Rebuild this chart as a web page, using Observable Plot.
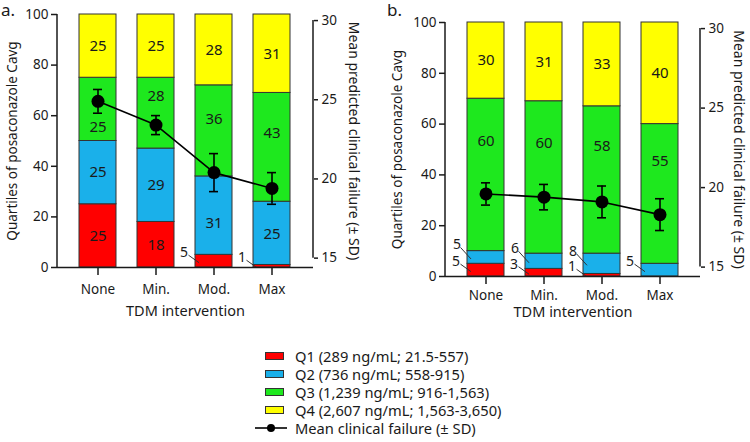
<!DOCTYPE html>
<html>
<head>
<meta charset="utf-8">
<script src="https://cdn.jsdelivr.net/npm/d3@7"></script>
<script src="https://cdn.jsdelivr.net/npm/@observablehq/plot@0.6"></script>
<style>
  body { margin: 0; background: #fff; }
  #wrap { position: relative; width: 750px; height: 442px; font-family: "Noto Sans", sans-serif; color: #1a1a1a; overflow: hidden; }
  .panel { position: absolute; top: 0; }
  .letter { position: absolute; font-size: 17px; line-height: 17px; }
  #legend { position: absolute; left: 255px; top: 347px; font-size: 14.7px; }
  .row { height: 18px; display: flex; align-items: center; }
  .sw { width: 17px; height: 6px; border: 1px solid #333; margin-left: 10px; margin-right: 11px; }
</style>
</head>
<body>
<div id="wrap">
  <div id="pa" class="panel" style="left:0px;"></div>
  <div id="pb" class="panel" style="left:375px;"></div>
  <div class="letter" style="left:1px;top:1px;">a.</div>
  <div class="letter" style="left:387px;top:1px;">b.</div>
  <div id="legend"></div>
</div>
<script>
// ---- data ----
const tdm = ["None", "Min.", "Mod.", "Max"];
const quartiles = ["Q1", "Q2", "Q3", "Q4"];
const quartileLabels = [
  "Q1 (289 ng/mL; 21.5-557)",
  "Q2 (736 ng/mL; 558-915)",
  "Q3 (1,239 ng/mL; 916-1,563)",
  "Q4 (2,607 ng/mL; 1,563-3,650)"
];
const lineLabel = "Mean clinical failure (\u00b1 SD)";
const colors = ["#ff0000", "#1ab0ea", "#1ee81e", "#ffff00"];

const aQ1 = [25, 18, 5, 1];
const aQ2 = [25, 29, 31, 25];
const aQ3 = [25, 28, 36, 43];
const aQ4 = [25, 25, 28, 31];
const aMean = [24.9, 23.4, 20.4, 19.4];
const aSD = [0.75, 0.6, 1.2, 1.0];

const bQ1 = [5, 3, 1, 0];
const bQ2 = [5, 6, 8, 5];
const bQ3 = [60, 60, 58, 55];
const bQ4 = [30, 31, 33, 40];
const bMean = [19.6, 19.4, 19.1, 18.3];
const bSD = [0.7, 0.8, 1.0, 1.0];

const leftTicks = [0, 20, 40, 60, 80, 100];
const rightTicks = [15, 20, 25, 30];
const xTitle = "TDM intervention";
const leftTitle = "Quartiles of posaconazole Cavg";
const rightTitle = "Mean predicted clinical failure (\u00b1 SD)";

// secondary axis: failure [15,30] drawn onto the left (percent) scale
const toLeft = d3.scaleLinear().domain([15, 30]).range([3.7, 97.6]);
const SMALL = 10;           // segments below this get an outside label with a leader line
const DY_LOW = -8.5, DY_LIFT = -12.5;

function buildStack(qs, fail) {
  const rows = [];
  tdm.forEach((t, i) => {
    let cum = 0, prevSmall = false;
    const eLo = toLeft(fail[i].mean - fail[i].sd), eHi = toLeft(fail[i].mean + fail[i].sd);
    qs.forEach((arr, k) => {
      const v = arr[i], lo = cum, hi = cum + v;
      let ly = (lo + hi) / 2;
      if (eHi > lo && eLo < hi) {            // keep the label clear of the error bar
        const below = Math.max(lo, eLo) - lo, above = hi - Math.min(hi, eHi);
        ly = below >= above ? lo + below / 2 : hi - above / 2;
      }
      const small = v > 0 && v < SMALL;
      rows.push({tdm: t, q: quartiles[k], value: v, lo, hi, mid: (lo + hi) / 2, ly, small, lift: small && prevSmall});
      prevSmall = small;
      cum = hi;
    });
  });
  return rows;
}

function panel(qs, means, sds, o) {
  const fail = tdm.map((t, i) => ({tdm: t, mean: means[i], sd: sds[i]}));
  const rows = buildStack(qs, fail);
  const big = rows.filter(d => d.value >= SMALL);
  const smallLow = rows.filter(d => d.small && !d.lift);
  const smallLift = rows.filter(d => d.small && d.lift);

  const spines = (index, scales, values, dims) => {
    const g = d3.create("svg:g").attr("stroke", "#1a1a1a").attr("stroke-width", 1.5);
    const xl = dims.marginLeft, xr = dims.width - dims.marginRight;
    g.append("line").attr("x1", xl).attr("x2", xl).attr("y1", scales.y(0)).attr("y2", scales.y(100));
    g.append("line").attr("x1", xr).attr("x2", xr).attr("y1", scales.y(toLeft(15))).attr("y2", scales.y(toLeft(30)));
    return g.node();
  };
  const leaders = (index, scales) => {
    const g = d3.create("svg:g").attr("stroke", "#333").attr("stroke-width", 1);
    rows.filter(d => d.small).forEach(d => {
      const x = scales.x(d.tdm), ym = scales.y(d.mid), yl = ym + (d.lift ? DY_LIFT : DY_LOW);
      g.append("line").attr("x1", x - 6.5).attr("y1", yl + 3).attr("x2", x + 4).attr("y2", ym + 2);
    });
    return g.node();
  };

  return Plot.plot({
    width: 375,
    height: 330,
    marginLeft: o.ml, marginRight: o.mr, marginTop: o.mt, marginBottom: o.mb,
    style: {fontFamily: "'Noto Sans', sans-serif", fontSize: "13.5px", color: "#1a1a1a", background: "transparent", overflow: "visible"},
    x: {domain: tdm, padding: 0.36},
    y: {domain: [0, 100]},
    color: {domain: quartiles, range: colors},
    marks: [
      Plot.barY(rows, {x: "tdm", y1: "lo", y2: "hi", fill: "q", stroke: "#333", strokeWidth: 1}),
      Plot.text(big, {x: "tdm", y: "ly", text: d => String(d.value), fontSize: 15, fill: "#1a1a1a"}),
      Plot.text(smallLow, {x: "tdm", y: "mid", text: d => String(d.value), fontSize: 14, fill: "#1a1a1a", dx: -30, dy: DY_LOW}),
      Plot.text(smallLift, {x: "tdm", y: "mid", text: d => String(d.value), fontSize: 14, fill: "#1a1a1a", dx: -29, dy: DY_LIFT}),
      leaders,
      Plot.ruleY([0], {stroke: "#1a1a1a", strokeWidth: 1.5}),
      spines,
      Plot.axisY({anchor: "left", ticks: leftTicks, tickSize: 6, tickPadding: 3, label: null, strokeWidth: 1.5}),
      Plot.axisY({anchor: "right", ticks: rightTicks.map(toLeft), tickFormat: d => String(Math.round(toLeft.invert(d))), tickSize: 4, tickPadding: 4, label: null, strokeWidth: 1.5}),
      Plot.axisX({tickSize: 8, tickPadding: o.tp, label: null, strokeWidth: 1.5}),
      Plot.line(fail, {x: "tdm", y: d => toLeft(d.mean), stroke: "black", strokeWidth: 1.6}),
      Plot.ruleX(fail, {x: "tdm", y1: d => toLeft(d.mean - d.sd), y2: d => toLeft(d.mean + d.sd), stroke: "black", strokeWidth: 1.6}),
      Plot.tickY(fail, {x: "tdm", y: d => toLeft(d.mean - d.sd), stroke: "black", strokeWidth: 1.6, inset: 14}),
      Plot.tickY(fail, {x: "tdm", y: d => toLeft(d.mean + d.sd), stroke: "black", strokeWidth: 1.6, inset: 14}),
      Plot.dot(fail, {x: "tdm", y: d => toLeft(d.mean), r: 6.5, fill: "black"}),
      Plot.text([xTitle], {frameAnchor: "bottom", text: d => d, dy: o.xt, fontSize: 14.5, textAnchor: "middle"}),
      Plot.text([leftTitle], {frameAnchor: "left", text: d => d, dx: o.lt, rotate: -90, fontSize: 13.5, textAnchor: "middle"}),
      Plot.text([rightTitle], {frameAnchor: "right", text: d => d, dx: o.rt, rotate: 90, fontSize: 14, textAnchor: "middle"})
    ]
  });
}

document.getElementById("pa").append(panel([aQ1, aQ2, aQ3, aQ4], aMean, aSD, {ml: 57, mr: 62, mt: 14, mb: 63, xt: 48, lt: -45, rt: 40, tp: 9}));
document.getElementById("pb").append(panel([bQ1, bQ2, bQ3, bQ4], bMean, bSD, {ml: 70, mr: 50, mt: 22, mb: 54, xt: 40, lt: -48, rt: 38, tp: 6}));

// legend
const leg = d3.select("#legend");
quartileLabels.forEach((lab, i) => {
  const r = leg.append("div").attr("class", "row");
  r.append("div").attr("class", "sw").style("background", colors[i]);
  r.append("span").text(lab);
});
const lr = leg.append("div").attr("class", "row");
lr.append("svg").attr("width", 40).attr("height", 12).call(s => {
  s.append("line").attr("x1", 0).attr("x2", 32).attr("y1", 6).attr("y2", 6).attr("stroke", "black").attr("stroke-width", 1.6);
  s.append("circle").attr("cx", 16).attr("cy", 6).attr("r", 4).attr("fill", "black");
});
lr.append("span").text(lineLabel);
</script>
</body>
</html>
